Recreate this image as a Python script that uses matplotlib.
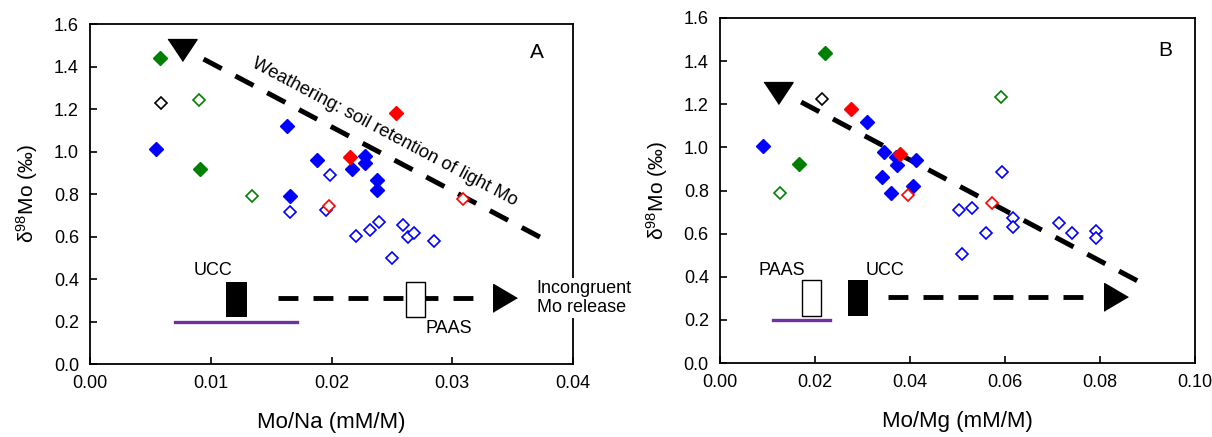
import matplotlib
matplotlib.use('Agg')
import matplotlib.pyplot as plt

plt.rcParams['font.family'] = ['Liberation Sans', 'DejaVu Sans']
plt.rcParams['mathtext.default'] = 'regular'

# ---- panel A : Mo/Na ----
a_blue_fill_x = [0.0055, 0.0163, 0.0166, 0.0188, 0.0217, 0.0228, 0.0228, 0.0238, 0.0238]
a_blue_fill_y = [1.01, 1.12, 0.79, 0.96, 0.92, 0.98, 0.945, 0.866, 0.82]
a_blue_open_x = [0.0166, 0.0195, 0.0199, 0.0220, 0.0232, 0.0239, 0.0250, 0.0259, 0.0263, 0.0268, 0.0285]
a_blue_open_y = [0.715, 0.725, 0.89, 0.602, 0.63, 0.668, 0.50, 0.654, 0.60, 0.615, 0.58]
a_red_fill_x = [0.0253, 0.0215]
a_red_fill_y = [1.18, 0.974]
a_red_open_x = [0.0198, 0.0309]
a_red_open_y = [0.745, 0.775]
a_green_fill_x = [0.0058, 0.0091]
a_green_fill_y = [1.44, 0.918]
a_green_open_x = [0.0090, 0.0134]
a_green_open_y = [1.242, 0.79]
a_black_open_x = [0.0059]
a_black_open_y = [1.228]

# ---- panel B : Mo/Mg ----
b_blue_fill_x = [0.0091, 0.0310, 0.0345, 0.0370, 0.0373, 0.0413, 0.0341, 0.0360, 0.0406]
b_blue_fill_y = [1.006, 1.118, 0.98, 0.955, 0.918, 0.94, 0.862, 0.79, 0.82]
b_blue_open_x = [0.0503, 0.0530, 0.0594, 0.0560, 0.0509, 0.0617, 0.0617, 0.0714, 0.0741, 0.0792, 0.0792]
b_blue_open_y = [0.71, 0.72, 0.886, 0.603, 0.505, 0.672, 0.63, 0.65, 0.603, 0.612, 0.58]
b_red_fill_x = [0.0276, 0.0379]
b_red_fill_y = [1.18, 0.97]
b_red_open_x = [0.0396, 0.0573]
b_red_open_y = [0.78, 0.742]
b_green_fill_x = [0.0221, 0.0166]
b_green_fill_y = [1.438, 0.923]
b_green_open_x = [0.0126, 0.0592]
b_green_open_y = [0.79, 1.234]
b_black_open_x = [0.0215]
b_black_open_y = [1.224]

# reference boxes / lines: (x0, x1), (y0, y1)
a_ucc = [(0.0113, 0.0130), (0.22, 0.385)]
a_paas = [(0.0262, 0.0277), (0.22, 0.385)]
a_purple = [(0.0070, 0.0171), 0.2]
b_ucc = [(0.0269, 0.0312), (0.22, 0.385)]
b_paas = [(0.0173, 0.0213), (0.22, 0.385)]
b_purple = [(0.0112, 0.0232), 0.2]

a_weather = [(0.0094, 0.0374), (1.435, 0.593)]
a_weather_tip = (0.0076, 1.478)
a_release = [(0.0156, 0.0322), 0.31]
a_release_tip = (0.0344, 0.31)

b_weather = [(0.0171, 0.0880), (1.21, 0.38)]
b_weather_tip = (0.0122, 1.25)
b_release = [(0.0354, 0.0778), 0.306]
b_release_tip = (0.0834, 0.306)

fig = plt.figure(figsize=(12.12, 4.37), dpi=100)
axA = fig.add_axes([0.0743, 0.167, 0.3985, 0.778])
axB = fig.add_axes([0.594, 0.169, 0.392, 0.790])

tri_down = [(-1, 0.75), (1, 0.75), (0, -0.75)]
tri_right = [(-0.85, -1), (-0.85, 1), (0.85, 0)]


def scatter_sets(ax, sets):
    for x, y, c, filled in sets:
        if filled:
            ax.plot(x, y, 'D', ms=7.0, color=c, mec=c, ls='none', zorder=4)
        else:
            ax.plot(x, y, 'D', ms=6.2, mfc='white', mec=c, mew=1.2, ls='none', zorder=4)


def refs(ax, ucc, paas, purple, weather, wtip, release, rtip):
    ax.plot(purple[0], [purple[1], purple[1]], color='#7030a0', lw=2.4, zorder=3)
    ax.fill_between(ucc[0], ucc[1][0], ucc[1][1], color='black', lw=0, zorder=5)
    ax.plot(release[0], [release[1], release[1]], color='black', lw=3.5,
            dashes=(4.1, 3.1), zorder=3)
    ax.fill_between(paas[0], paas[1][0], paas[1][1], facecolor='white',
                    edgecolor='black', lw=1.0, zorder=5)
    ax.plot(*rtip, marker=tri_right, ms=20, color='black', zorder=6)
    ax.plot(weather[0], weather[1], color='black', lw=3.6, dashes=(4.1, 3.1), zorder=3)
    ax.plot(*wtip, marker=tri_down, ms=21, color='black', zorder=6)


def style(ax, xmax, xstep, xlabel, letter, lpos):
    ax.set_xlim(0, xmax)
    ax.set_ylim(0, 1.6)
    ax.set_xticks([i * xstep for i in range(int(round(xmax / xstep)) + 1)])
    ax.set_yticks([i * 0.2 for i in range(9)])
    ax.xaxis.set_major_formatter(plt.FormatStrFormatter('%.2f'))
    ax.yaxis.set_major_formatter(plt.FormatStrFormatter('%.1f'))
    ax.tick_params(direction='in', length=5, width=1.2, labelsize=13, pad=8)
    for s in ax.spines.values():
        s.set_linewidth(1.3)
    ax.set_xlabel(xlabel, fontsize=16, labelpad=14)
    ax.set_ylabel('δ$^{98}$Mo (‰)', fontsize=15, labelpad=10)
    ax.text(lpos[0], lpos[1], letter, fontsize=15, ha='center', va='center')


scatter_sets(axA, [
    (a_blue_fill_x, a_blue_fill_y, 'blue', True),
    (a_blue_open_x, a_blue_open_y, 'blue', False),
    (a_red_fill_x, a_red_fill_y, 'red', True),
    (a_red_open_x, a_red_open_y, 'red', False),
    (a_green_fill_x, a_green_fill_y, 'green', True),
    (a_green_open_x, a_green_open_y, 'green', False),
    (a_black_open_x, a_black_open_y, 'black', False),
])
refs(axA, a_ucc, a_paas, a_purple, a_weather, a_weather_tip, a_release, a_release_tip)
style(axA, 0.04, 0.01, 'Mo/Na (mM/M)', 'A', (0.0370, 1.468))
axA.text(0.0244, 1.092, 'Weathering: soil retention of light Mo', fontsize=13.2,
         rotation=-27.9, rotation_mode='anchor', ha='center', va='center')
axA.text(0.0102, 0.442, 'UCC', fontsize=13, ha='center', va='center')
axA.text(0.0297, 0.165, 'PAAS', fontsize=13, ha='center', va='center')
axA.text(0.0370, 0.31, 'Incongruent\nMo release', fontsize=13, ha='left', va='center',
         linespacing=1.2, clip_on=False, zorder=10,
         bbox=dict(facecolor='white', edgecolor='none', pad=1))

scatter_sets(axB, [
    (b_blue_fill_x, b_blue_fill_y, 'blue', True),
    (b_blue_open_x, b_blue_open_y, 'blue', False),
    (b_red_fill_x, b_red_fill_y, 'red', True),
    (b_red_open_x, b_red_open_y, 'red', False),
    (b_green_fill_x, b_green_fill_y, 'green', True),
    (b_green_open_x, b_green_open_y, 'green', False),
    (b_black_open_x, b_black_open_y, 'black', False),
])
refs(axB, b_ucc, b_paas, b_purple, b_weather, b_weather_tip, b_release, b_release_tip)
style(axB, 0.10, 0.02, 'Mo/Mg (mM/M)', 'B', (0.0937, 1.447))
axB.text(0.0131, 0.43, 'PAAS', fontsize=13, ha='center', va='center')
axB.text(0.0347, 0.43, 'UCC', fontsize=13, ha='center', va='center')

fig.savefig('out.png', dpi=100)
